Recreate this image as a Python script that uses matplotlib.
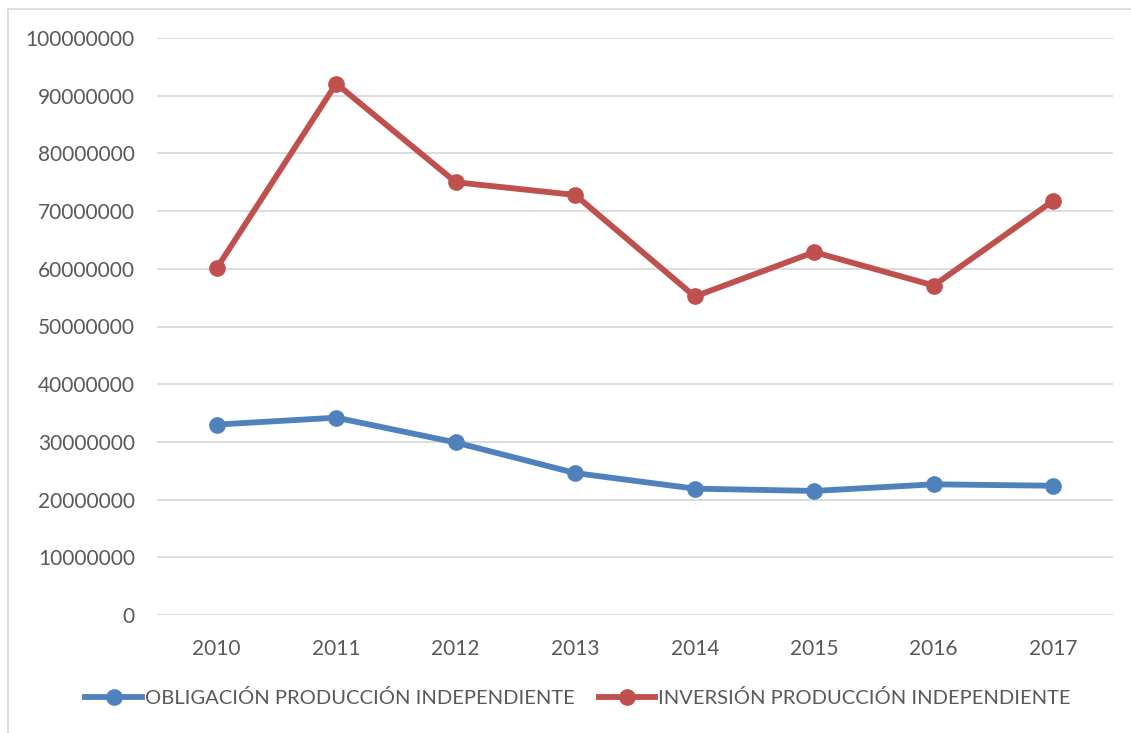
import matplotlib
matplotlib.use("Agg")
import matplotlib.pyplot as plt
from matplotlib.lines import Line2D

years = ["2010", "2011", "2012", "2013", "2014", "2015", "2016", "2017"]
obligacion = [33000000, 34200000, 29900000, 24600000, 21900000, 21500000, 22650000, 22400000]
inversion = [60100000, 92100000, 75000000, 72800000, 55200000, 62900000, 57100000, 71800000]
yticks = list(range(0, 100000001, 10000000))

plt.rcParams['font.family'] = ['Lato', 'DejaVu Sans']

fig = plt.figure(figsize=(11.31, 7.33), dpi=100)
ax = fig.add_axes([157/1131, 1-615/733, (1113-157)/1131, (615-38)/733])

blue = '#4F81BD'
red = '#C0504D'
x = list(range(len(years)))
ax.plot(x, obligacion, color=blue, lw=4.2, marker='o', ms=11,
        label='OBLIGACIÓN PRODUCCIÓN INDEPENDIENTE', zorder=3)
ax.plot(x, inversion, color=red, lw=4.2, marker='o', ms=11,
        label='INVERSIÓN PRODUCCIÓN INDEPENDIENTE', zorder=3)

ax.set_xlim(-0.5, len(years)-0.5)
ax.set_ylim(0, 100000000)
ax.set_xticks(x)
ax.set_xticklabels(years)
ax.set_yticks(yticks)
ax.set_yticklabels([str(v) for v in yticks])
ax.grid(axis='y', color='#D9D9D9', lw=1.3, zorder=0)
ax.set_axisbelow(True)
for s in ax.spines.values():
    s.set_visible(False)
ax.tick_params(length=0, colors='#595959', labelsize=15)
ax.tick_params(axis='x', pad=17)
ax.tick_params(axis='y', pad=16)

leg = fig.legend(loc='center', bbox_to_anchor=(578/1131, 1-698/733), ncol=2,
                 frameon=False, fontsize=14.5, handlelength=2.8, handletextpad=0.15,
                 columnspacing=1.2, labelcolor='#595959')

# outer chart frame (only top and left edges visible in the reference)
fig.add_artist(Line2D([8/1131, 1], [1-9/733, 1-9/733], transform=fig.transFigure,
                      color='#D9D9D9', lw=1.2))
fig.add_artist(Line2D([8/1131, 8/1131], [0, 1-9/733], transform=fig.transFigure,
                      color='#D9D9D9', lw=1.2))

fig.savefig('out.png', dpi=100)
